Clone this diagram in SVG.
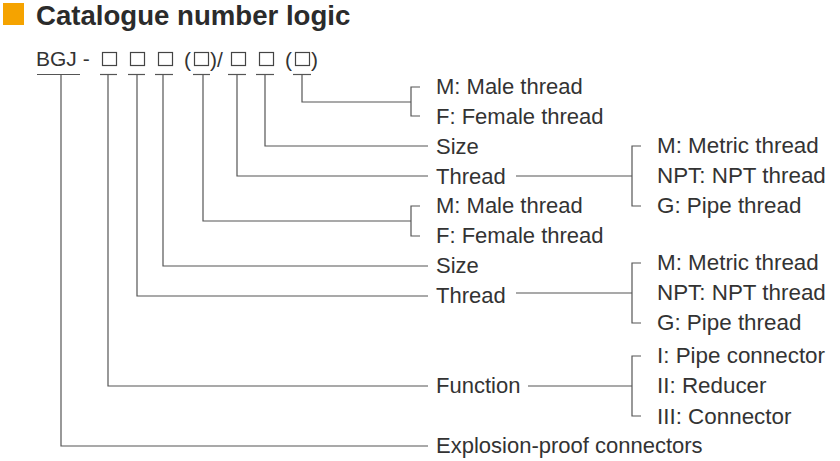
<svg xmlns="http://www.w3.org/2000/svg" width="840" height="461" viewBox="0 0 840 461">
<style>
text{font-family:"Liberation Sans",Arial,sans-serif;fill:#333;font-size:22px}
.r{font-size:22.4px}
.t{font-size:27.6px;font-weight:bold;fill:#2b2b2b}
.c{font-size:21px}
.b{fill:none;stroke:#444;stroke-width:1.2}
line,path{stroke:#555;stroke-width:1.2;fill:none}
</style>
<rect width="840" height="461" fill="#fff"/>
<g id="title"><rect x="3" y="3" width="21" height="22" fill="#f5a300"/><text class="t" x="36" y="25">Catalogue number logic</text></g>
<g id="code"><text class="c" x="36" y="66">BGJ -</text>
<rect class="b" x="102.5" y="52.5" width="14" height="13"/><rect class="b" x="130.5" y="52.5" width="14" height="13"/><rect class="b" x="158.5" y="52.5" width="14" height="13"/>
<text class="c" x="184" y="67">(</text><rect class="b" x="194.5" y="52.5" width="14" height="13"/><text class="c" x="210" y="67">)/</text>
<rect class="b" x="231.5" y="52.5" width="14" height="13"/><rect class="b" x="259.5" y="52.5" width="14" height="13"/>
<text class="c" x="285" y="67">(</text><rect class="b" x="295.5" y="52.5" width="14" height="13"/><text class="c" x="311" y="67">)</text></g>
<g id="connectors">
<line x1="37" y1="74.5" x2="80" y2="74.5"/><line x1="100" y1="74.5" x2="117" y2="74.5"/><line x1="128" y1="74.5" x2="145" y2="74.5"/><line x1="155" y1="74.5" x2="173" y2="74.5"/><line x1="193" y1="74.5" x2="210" y2="74.5"/><line x1="228" y1="74.5" x2="246" y2="74.5"/><line x1="256" y1="74.5" x2="274" y2="74.5"/><line x1="293" y1="74.5" x2="311" y2="74.5"/>
<path d="M302 74.5V102H411M420 87H411V116H420"/>
<path d="M265 74.5V146H428"/>
<path d="M237 74.5V176H428M516 176H632M641 146H632V206H641"/>
<path d="M203 74.5V221H411M420 206H411V236H420"/>
<path d="M163 74.5V266H428"/>
<path d="M137 74.5V296H428M516 293H632M641 263H632V323H641"/>
<path d="M108 74.5V386H428M528 386H632M641 356H632V416H641"/>
<path d="M61 74.5V446H428"/>
</g>
<g id="labels">
<text x="436" y="94">M: Male thread</text><text x="436" y="124">F: Female thread</text>
<text x="436" y="154">Size</text><text x="436" y="184">Thread</text>
<text x="436" y="213">M: Male thread</text><text x="436" y="243">F: Female thread</text>
<text x="436" y="273">Size</text><text x="436" y="303">Thread</text>
<text x="436" y="393">Function</text><text x="436" y="453">Explosion-proof connectors</text>
<text class="r" x="657" y="153">M: Metric thread</text><text class="r" x="657" y="183">NPT: NPT thread</text><text class="r" x="657" y="213">G: Pipe thread</text>
<text class="r" x="657" y="270">M: Metric thread</text><text class="r" x="657" y="300">NPT: NPT thread</text><text class="r" x="657" y="330">G: Pipe thread</text>
<text class="r" x="657" y="363">I: Pipe connector</text><text class="r" x="657" y="393">II: Reducer</text><text class="r" x="657" y="424">III: Connector</text>
</g>
</svg>
